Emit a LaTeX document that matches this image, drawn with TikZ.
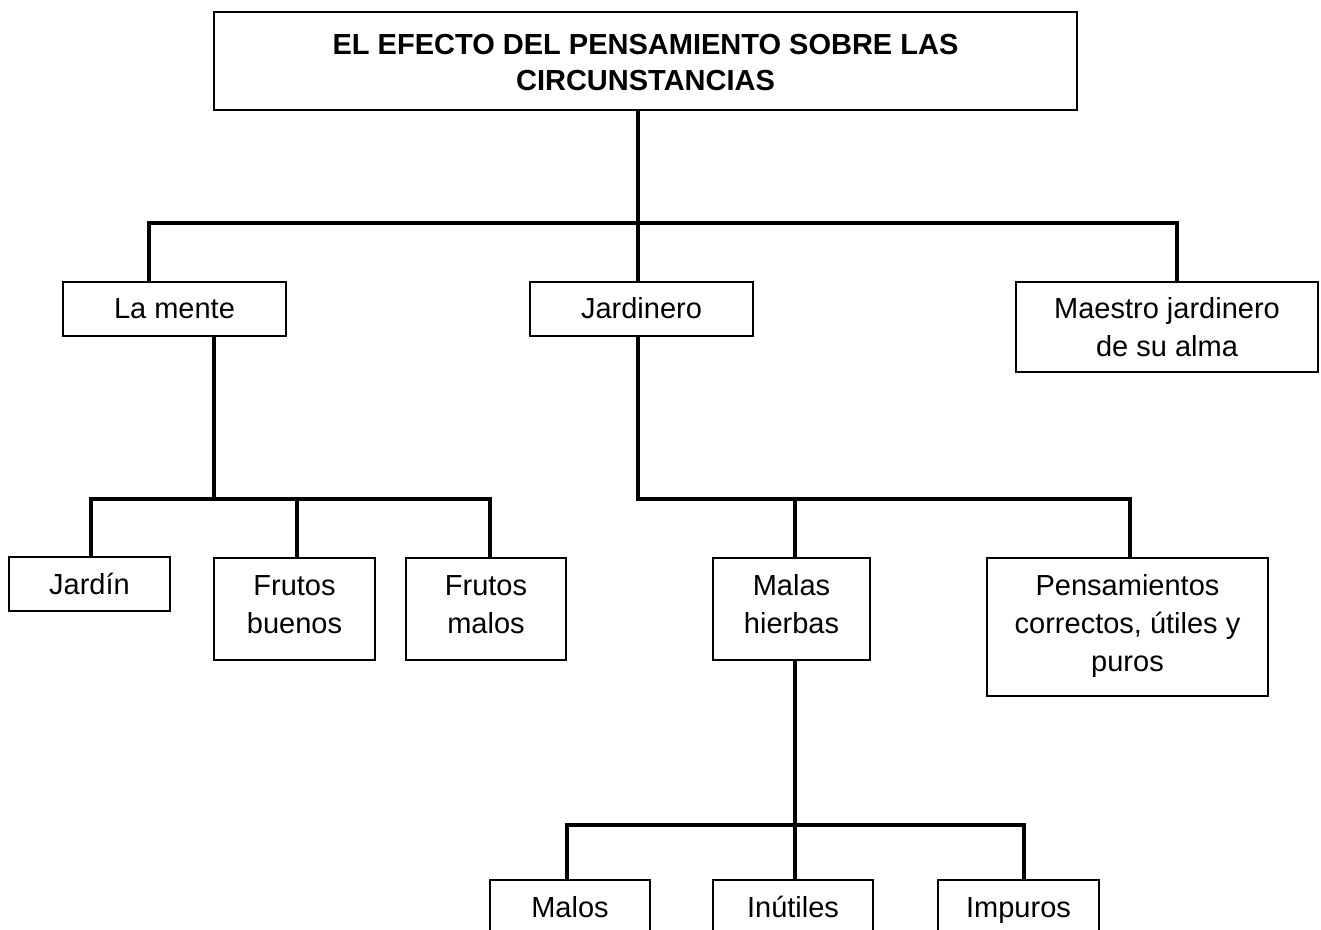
\documentclass[tikz,border=0pt]{standalone}
\usepackage{fontspec}
\setmainfont{Liberation Sans}
\newcommand{\lineas}[1]{\begin{tabular}[t]{@{}c@{}}#1\end{tabular}}

\begin{document}
\begin{tikzpicture}[
            x=0.5pt, y=-0.5pt,
            box/.style     ={rectangle, draw=black, line width=1pt, fill=white,
                             inner sep=0pt, text height=18.5pt,
                             font=\fontsize{14.5}{19}\selectfont},
            titlebox/.style={box, text height=21.2pt,
                             font=\fontsize{14.5}{18}\selectfont\bfseries},
            link/.style    ={line width=2pt}
        ]
        \path[use as bounding box, fill=white] (0,0) rectangle (1321,930);
        \clip (0,0) rectangle (1321,930);

        % cajas
        \node[titlebox, minimum width=431.5pt, text depth=27.8pt] (titulo) at (645.5,61)
            {\lineas{EL EFECTO DEL PENSAMIENTO SOBRE LAS\\CIRCUNSTANCIAS}};
        \node[box, minimum width=111.5pt, text depth=8.5pt]  (mente)     at (174.5,309)  {\lineas{La mente}};
        \node[box, minimum width=111.5pt, text depth=8.5pt]  (jardinero) at (641.5,309)  {\lineas{Jardinero}};
        \node[box, minimum width=151pt,   text depth=26.5pt] (maestro)   at (1167,327)   {\lineas{Maestro jardinero\\de su alma}};
        \node[box, minimum width=80.5pt,  text depth=8.5pt]  (jardin)    at (89.5,584)   {\lineas{Jardín}};
        \node[box, minimum width=80.5pt,  text depth=32.5pt] (buenos)    at (294.5,609)  {\lineas{Frutos\\buenos}};
        \node[box, minimum width=80pt,    text depth=32.5pt] (malosfr)   at (486,609)    {\lineas{Frutos\\malos}};
        \node[box, minimum width=78.5pt,  text depth=32.5pt] (hierbas)   at (791.5,609)  {\lineas{Malas\\hierbas}};
        \node[box, minimum width=140.5pt, text depth=50.5pt] (pensam)    at (1127.5,627)
            {\lineas{Pensamientos\\correctos, útiles y\\puros}};
        \node[box, minimum width=80pt,    text depth=8.5pt]  (malos)     at (570,907)    {\lineas{Malos}};
        \node[box, minimum width=80pt,    text depth=8.5pt]  (inutiles)  at (793,907)    {\lineas{Inútiles}};
        \node[box, minimum width=80.5pt,  text depth=8.5pt]  (impuros)   at (1018.5,907) {\lineas{Impuros}};

        % puntos de las barras
        \coordinate (tl) at (149,223);  \coordinate (tm) at (638,223);  \coordinate (tr) at (1177,223);
        \coordinate (ml) at (91,499);   \coordinate (mm) at (214,499);
        \coordinate (mc) at (297,499);  \coordinate (mr) at (490,499);
        \coordinate (jm) at (638,499);  \coordinate (jc) at (795,499);  \coordinate (jr) at (1130,499);
        \coordinate (hl) at (567,825);  \coordinate (hm) at (795,825);  \coordinate (hr) at (1024,825);

        \draw[link] (titulo.south -| tm) -- (jardinero.north -| tm);
        \draw[link] (mente.north -| tl) -- (tl) -- (tr) -- (maestro.north -| tr);

        \draw[link] (mente.south -| mm) -- (mm);
        \draw[link] (jardin.north -| ml) -- (ml) -- (mr) -- (malosfr.north -| mr);
        \draw[link] (mc) -- (buenos.north -| mc);

        \draw[link] (jardinero.south -| jm) -- (jm) -- (jr) -- (pensam.north -| jr);
        \draw[link] (jc) -- (hierbas.north -| jc);

        \draw[link] (hierbas.south -| hm) -- (hm);
        \draw[link] (malos.north -| hl) -- (hl) -- (hr) -- (impuros.north -| hr);
        \draw[link] (hm) -- (inutiles.north -| hm);
        \end{tikzpicture}
\end{document}
